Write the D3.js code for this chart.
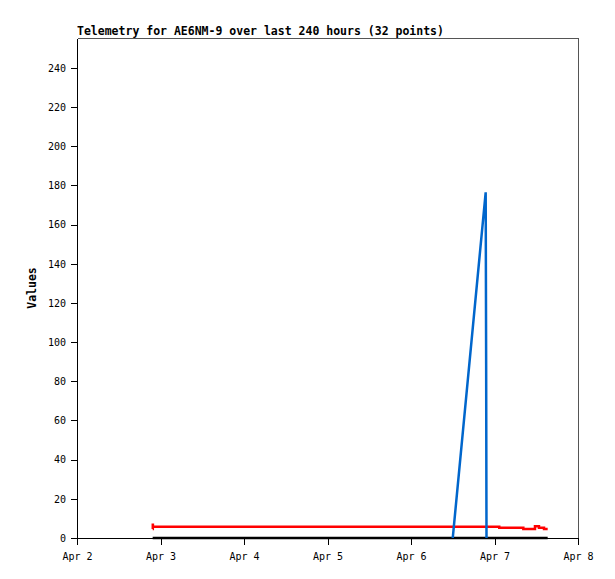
<!DOCTYPE html>
<html>
<head>
<meta charset="utf-8">
<script src="https://cdn.jsdelivr.net/npm/d3@7"></script>
<style>
  body { margin: 0; background: #fff; }
  text { font-family: "DejaVu Sans Mono", monospace; }
</style>
</head>
<body>
<svg width="615" height="579"></svg>
<script>
// series data (UTC times)
var redTimes  = ["2024-04-02T21:45", "2024-04-02T21:47", "2024-04-02T21:49", "2024-04-07T01:22", "2024-04-07T08:17", "2024-04-07T11:38", "2024-04-07T12:47", "2024-04-07T14:14", "2024-04-07T15:17"];
var redValues = [4.6, 6.8, 5.8, 5.26, 4.6, 6.0, 5.26, 4.6, 4.6];

var blueTimes  = ["2024-04-06T12:00", "2024-04-06T21:28", "2024-04-06T21:36", "2024-04-06T21:42"];
var blueValues = [0, 176.5, 88, 0];

var blackTimes  = ["2024-04-02T21:45", "2024-04-07T15:17"];
var blackValues = [0, 0];

var yTicks = [0, 20, 40, 60, 80, 100, 120, 140, 160, 180, 200, 220, 240];
var xStart = "2024-04-02T00:00", xEnd = "2024-04-08T00:00";
var title = "Telemetry for AE6NM-9 over last 240 hours (32 points)";

var svg = d3.select("svg"),
    margin = {top: 38, right: 37, bottom: 41, left: 77},
    width = +svg.attr("width") - margin.left - margin.right,
    height = +svg.attr("height") - margin.top - margin.bottom,
    g = svg.append("g").attr("transform", "translate(" + margin.left + "," + margin.top + ")");

var parse = d3.utcParse("%Y-%m-%dT%H:%M");

function pts(times, values) {
  return times.map(function(t, i) { return {date: parse(t), value: values[i]}; });
}

var x = d3.scaleUtc().domain([parse(xStart), parse(xEnd)]).range([0, width]),
    y = d3.scaleLinear().domain([0, 255.3]).range([height, 0]);

// frame top/right
g.append("path")
    .attr("d", "M0.5,0.5H" + (width + 0.5) + "V" + height)
    .attr("fill", "none")
    .attr("stroke", "#555")
    .attr("shape-rendering", "crispEdges");

var xAxis = g.append("g")
    .attr("transform", "translate(0," + height + ")")
    .call(d3.axisBottom(x).ticks(d3.utcDay.every(1)).tickFormat(d3.utcFormat("%b %-d")).tickSizeInner(7).tickSizeOuter(0).tickPadding(8));

var yAxis = g.append("g")
    .call(d3.axisLeft(y).tickValues(yTicks).tickSizeInner(6).tickSizeOuter(0).tickPadding(5));

[xAxis, yAxis].forEach(function(a) {
  a.selectAll("text").style("font-family", "'DejaVu Sans Mono', monospace").style("font-size", "10px").attr("fill", "#000");
  a.selectAll("line, path").attr("stroke", "#000").attr("shape-rendering", "crispEdges");
});

var line = d3.line()
    .x(function(d) { return x(d.date); })
    .y(function(d) { return y(d.value); });

var stepLine = d3.line()
    .curve(d3.curveStepAfter)
    .x(function(d) { return x(d.date); })
    .y(function(d) { return y(d.value); });

g.append("path")
    .datum(pts(blackTimes, blackValues))
    .attr("d", line)
    .attr("fill", "none")
    .attr("stroke", "#000")
    .attr("stroke-width", 2.5);

g.append("path")
    .datum(pts(redTimes, redValues))
    .attr("d", stepLine)
    .attr("fill", "none")
    .attr("stroke", "#ff0000")
    .attr("stroke-width", 2.5);

g.append("path")
    .datum(pts(blueTimes, blueValues))
    .attr("d", line)
    .attr("fill", "none")
    .attr("stroke", "#0066cc")
    .attr("stroke-width", 2.5);

svg.append("text")
    .attr("x", margin.left)
    .attr("y", 35)
    .style("font-size", "11.5px")
    .style("font-weight", "bold")
    .text(title);

svg.append("text")
    .attr("transform", "translate(36," + (margin.top + height / 2) + ") rotate(-90)")
    .attr("text-anchor", "middle")
    .style("font-size", "11.5px")
    .style("font-weight", "bold")
    .text("Values");
</script>
</body>
</html>
